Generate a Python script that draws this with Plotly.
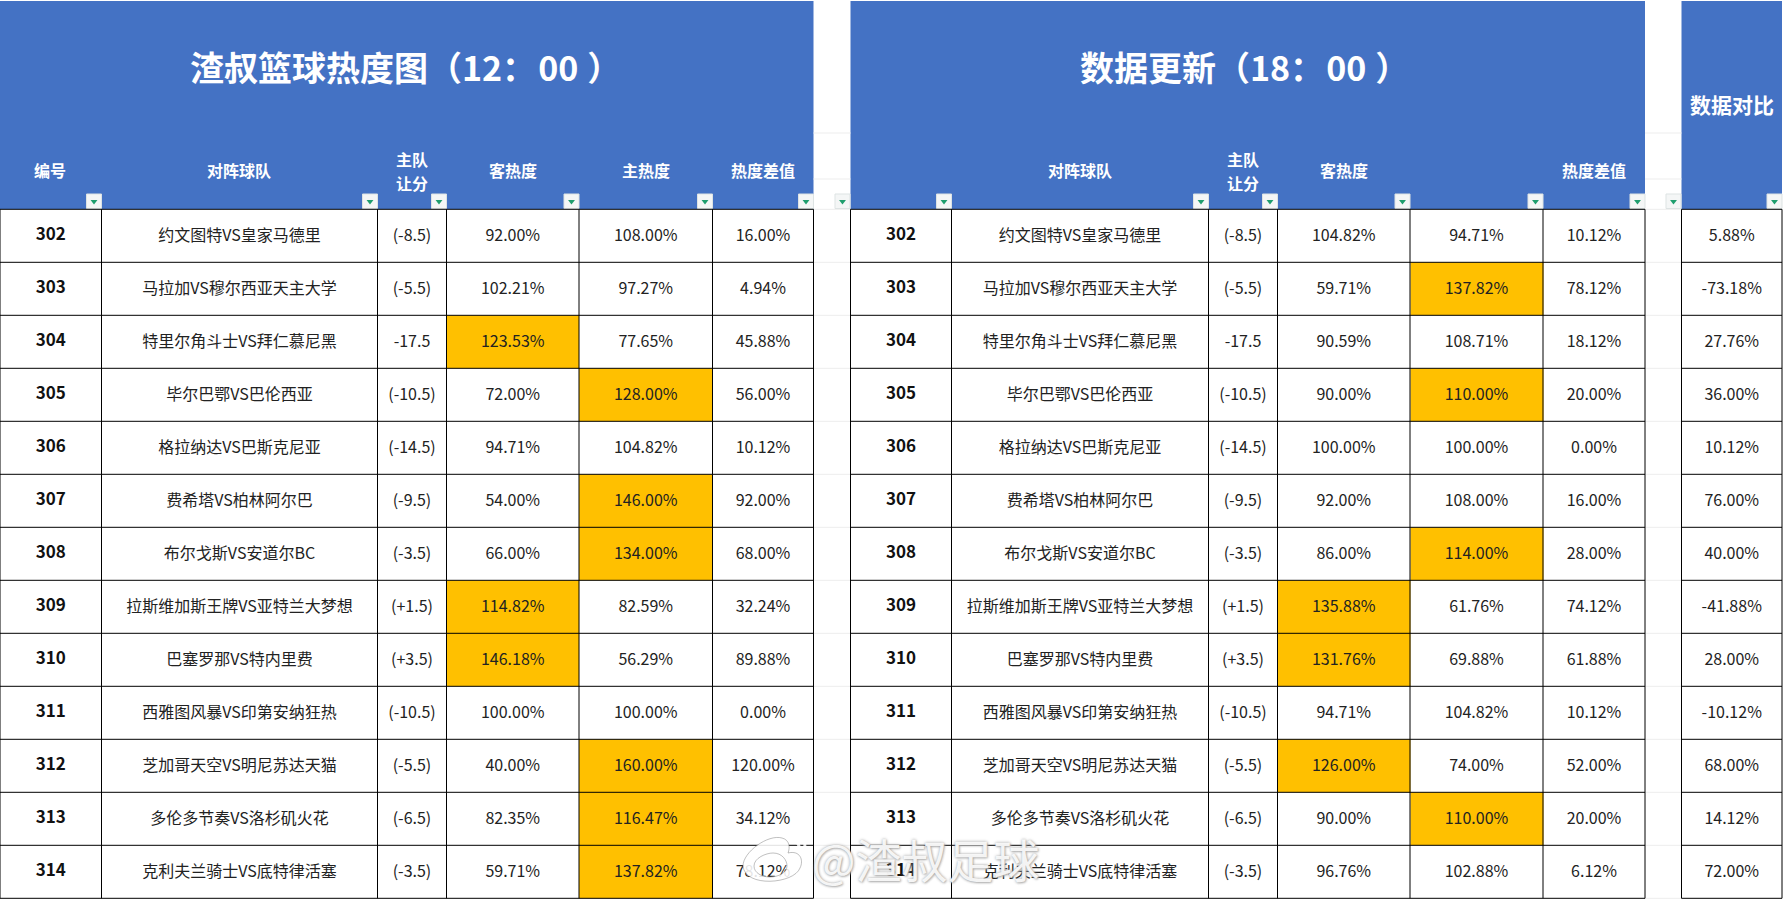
import plotly.graph_objects as go

# ================= DATA =================
GAME_IDS = [302, 303, 304, 305, 306, 307, 308, 309, 310, 311, 312, 313, 314]
TEAMS = ["约文图特VS皇家马德里", "马拉加VS穆尔西亚天主大学", "特里尔角斗士VS拜仁慕尼黑", "毕尔巴鄂VS巴伦西亚",
         "格拉纳达VS巴斯克尼亚", "费希塔VS柏林阿尔巴", "布尔戈斯VS安道尔BC", "拉斯维加斯王牌VS亚特兰大梦想",
         "巴塞罗那VS特内里费", "西雅图风暴VS印第安纳狂热", "芝加哥天空VS明尼苏达天猫", "多伦多节奏VS洛杉矶火花",
         "克利夫兰骑士VS底特律活塞"]
HANDICAP = ["(-8.5)", "(-5.5)", "-17.5", "(-10.5)", "(-14.5)", "(-9.5)", "(-3.5)", "(+1.5)", "(+3.5)",
            "(-10.5)", "(-5.5)", "(-6.5)", "(-3.5)"]

AWAY_12 = [92.00, 102.21, 123.53, 72.00, 94.71, 54.00, 66.00, 114.82, 146.18, 100.00, 40.00, 82.35, 59.71]
HOME_12 = [108.00, 97.27, 77.65, 128.00, 104.82, 146.00, 134.00, 82.59, 56.29, 100.00, 160.00, 116.47, 137.82]
DIFF_12 = [16.00, 4.94, 45.88, 56.00, 10.12, 92.00, 68.00, 32.24, 89.88, 0.00, 120.00, 34.12, 78.12]

AWAY_18 = [104.82, 59.71, 90.59, 90.00, 100.00, 92.00, 86.00, 135.88, 131.76, 94.71, 126.00, 90.00, 96.76]
HOME_18 = [94.71, 137.82, 108.71, 110.00, 100.00, 108.00, 114.00, 61.76, 69.88, 104.82, 74.00, 110.00, 102.88]
DIFF_18 = [10.12, 78.12, 18.12, 20.00, 0.00, 16.00, 28.00, 74.12, 61.88, 10.12, 52.00, 20.00, 6.12]

COMPARE = [5.88, -73.18, 27.76, 36.00, 10.12, 76.00, 40.00, -41.88, 28.00, -10.12, 68.00, 14.12, 72.00]

# ================= LAYOUT CONFIG =================
W, H = 1783, 900
FONT = "Noto Sans CJK SC"
BLUE = "#4472C4"
AMBER = "#FFC000"
INK = "#222222"
HOT = 110  # cells at or above this get highlighted

EDGES_A = [0, 101.5, 377.5, 446.5, 579, 712.5, 813.5]
EDGES_B = [850.5, 951.5, 1208.5, 1277.5, 1410, 1543, 1645]
EDGES_C = [1681.5, 1782]
HEAD_BOTTOM = 209.3
ROW_H = 53
ROW_EDGES = [HEAD_BOTTOM + ROW_H * i for i in range(len(GAME_IDS) + 1)]
ROW_MID = [y + ROW_H / 2 + 1 for y in ROW_EDGES[:-1]]


def pct(values):
    return [f"{v:.2f}%" for v in values]


def mid(edges, i):
    return (edges[i] + edges[i + 1]) / 2


fig = go.Figure()
shapes = []
annotations = []


def rect(x0, y0, x1, y1, fill):
    shapes.append(dict(type="rect", x0=x0, y0=y0, x1=x1, y1=y1, fillcolor=fill,
                       line=dict(color=fill, width=0), layer="below"))


def label(x, y, text, size, color="white", bold=True):
    annotations.append(dict(x=x, y=y, xref="x", yref="y", text=f"<b>{text}</b>" if bold else text,
                            showarrow=False, font=dict(family=FONT, size=size, color=color)))


def add_cells(edges, cols):
    # amber cells through one heatmap per table
    z = [[1 if isinstance(col[r], float) and hot and col[r] >= HOT else 0 for col, hot in cols]
         for r in range(len(GAME_IDS))]
    fig.add_trace(go.Heatmap(x=edges, y=ROW_EDGES, z=z, zmin=0, zmax=1, showscale=False, hoverinfo="skip",
                             colorscale=[[0, "white"], [1, AMBER]]))


def add_column(x, values, bold=False):
    text = [f"<b>{v}</b>" if bold else str(v) for v in values]
    fig.add_trace(go.Scatter(x=[x] * len(values), y=[y - 1 for y in ROW_MID] if bold else ROW_MID,
                             mode="text", text=text, textposition="middle center",
                             textfont=dict(family=FONT, size=17 if bold else 16, color=INK if not bold else "#111111"),
                             hoverinfo="skip", showlegend=False))


def add_grid(edges):
    for x in edges:
        shapes.append(dict(type="line", x0=x, x1=x, y0=HEAD_BOTTOM, y1=ROW_EDGES[-1],
                           line=dict(color="black", width=1)))
    for y in ROW_EDGES:
        shapes.append(dict(type="line", x0=edges[0], x1=edges[-1], y0=y, y1=y,
                           line=dict(color="black", width=1)))


# ================= BODY =================
add_cells(EDGES_A, [(GAME_IDS, False), (TEAMS, False), (HANDICAP, False), (AWAY_12, True), (HOME_12, True), (DIFF_12, False)])
add_cells(EDGES_B, [(GAME_IDS, False), (TEAMS, False), (HANDICAP, False), (AWAY_18, True), (HOME_18, True), (DIFF_18, False)])
add_cells(EDGES_C, [(COMPARE, False)])

for edges, away, home, diff in [(EDGES_A, AWAY_12, HOME_12, DIFF_12), (EDGES_B, AWAY_18, HOME_18, DIFF_18)]:
    add_column(mid(edges, 0), GAME_IDS, bold=True)
    add_column(mid(edges, 1), TEAMS)
    add_column(mid(edges, 2), HANDICAP)
    add_column(mid(edges, 3), pct(away))
    add_column(mid(edges, 4), pct(home))
    add_column(mid(edges, 5), pct(diff))
    add_grid(edges)
add_column(mid(EDGES_C, 0), pct(COMPARE))
add_grid(EDGES_C)

# ================= HEADER =================
rect(0, 1, EDGES_A[-1], HEAD_BOTTOM, BLUE)
rect(EDGES_B[0], 1, EDGES_B[-1], HEAD_BOTTOM, BLUE)
rect(EDGES_C[0], 1, EDGES_C[-1], HEAD_BOTTOM, BLUE)

label(405, 66, "渣叔篮球热度图（12：\u200a00\u2009\u200a）", 34)
label(1244, 66, "数据更新（18：\u200a00\u2009\u200a）", 34)
label(mid(EDGES_C, 0), 104, "数据对比", 21)

HEAD_Y = 170
label(mid(EDGES_A, 0) - 1, HEAD_Y, "编号", 16)
label(mid(EDGES_A, 1) - 1, HEAD_Y, "对阵球队", 16)
label(mid(EDGES_A, 2), 159, "主队", 16)
label(mid(EDGES_A, 2), 183, "让分", 16)
label(mid(EDGES_A, 3), HEAD_Y, "客热度", 16)
label(mid(EDGES_A, 4), HEAD_Y, "主热度", 16)
label(mid(EDGES_A, 5), HEAD_Y, "热度差值", 16)
label(mid(EDGES_B, 1), HEAD_Y, "对阵球队", 16)
label(mid(EDGES_B, 2), 159, "主队", 16)
label(mid(EDGES_B, 2), 183, "让分", 16)
label(mid(EDGES_B, 3), HEAD_Y, "客热度", 16)
label(mid(EDGES_B, 5), HEAD_Y, "热度差值", 16)

# gaps between the tables keep their faint sheet gridlines
for x0, x1 in [(EDGES_A[-1], EDGES_B[0]), (EDGES_B[-1], EDGES_C[0])]:
    for y in [133, 179, HEAD_BOTTOM] + ROW_EDGES[1:]:
        shapes.append(dict(type="line", x0=x0, x1=x1, y0=y, y1=y, line=dict(color="#EDEDED", width=1), layer="below"))

# filter buttons, under the triangle markers
BTN_RIGHT = EDGES_A[1:] + [850] + EDGES_B[1:] + [1681, 1782]
for x in BTN_RIGHT:
    shapes.append(dict(type="rect", x0=x - 15, x1=x, y0=194, y1=208.5, fillcolor="#F4F6F6",
                       line=dict(color="#DDE3E3", width=1), layer="below"))
fig.add_trace(go.Scatter(x=[x - 7.5 for x in BTN_RIGHT], y=[201.5] * len(BTN_RIGHT), mode="markers",
                         marker=dict(symbol="triangle-down", size=6, color="#1F9E6E"),
                         hoverinfo="skip", showlegend=False))

# ================= WATERMARK =================
WM = "rgba(255,255,255,0.88)"
WM_LINE = "rgba(130,130,130,0.5)"
shapes.append(dict(type="path", fillrule="evenodd",
                   path="M 743,866 C 743,852 768,834 782,838 C 790,840 790,848 788,853 "
                   "C 800,850 804,860 800,868 C 794,884 745,888 743,866 Z "
                   "M 754,866 C 754,858 766,853 773,853 C 782,853 787,860 787,866 "
                   "C 787,873 778,877 770,877 C 762,877 754,873 754,866 Z",
                   fillcolor=WM, line=dict(color=WM_LINE, width=1)))
shapes.append(dict(type="path", path="M 788,838 C 796,838 800,844 799,850", line=dict(color=WM, width=3)))
shapes.append(dict(type="path", path="M 786,830 C 798,828 808,840 804,852", line=dict(color=WM, width=3)))
annotations.append(dict(x=926, y=858, xref="x", yref="y", text="@渣叔足球", showarrow=False,
                        font=dict(family=FONT, size=46, color=WM,
                                  shadow="0px 0px 3px #999999, 1px 1px 2px #BBBBBB")))

fig.update_layout(
    width=W, height=H, margin=dict(l=0, r=0, t=0, b=0, pad=0),
    paper_bgcolor="white", plot_bgcolor="white", showlegend=False,
    xaxis=dict(range=[0, W], visible=False, fixedrange=True),
    yaxis=dict(range=[H, 0], visible=False, fixedrange=True),
    shapes=shapes, annotations=annotations,
)
fig.write_html("out.html", config={"displayModeBar": False}, post_script="document.body.style.margin='0';")
